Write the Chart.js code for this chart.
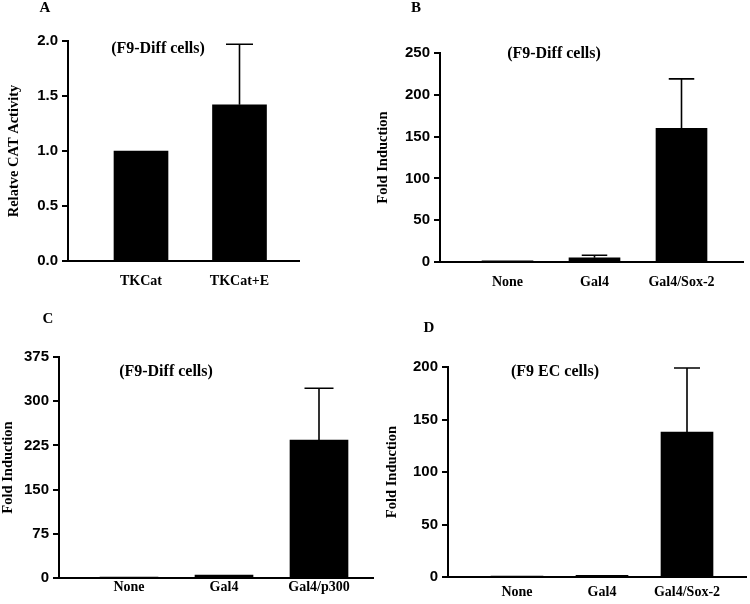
<!DOCTYPE html>
<html>
<head>
<meta charset="utf-8">
<script src="https://cdn.jsdelivr.net/npm/chart.js@4"></script>
<style>
  html, body { margin: 0; padding: 0; background: #fff; }
  #page { position: relative; width: 750px; height: 604px; }
  .panel { position: absolute; width: 375px; height: 302px; }
</style>
</head>
<body>
<div id="page">
  <div class="panel" style="left:0;top:0"><canvas id="chartA"></canvas></div>
  <div class="panel" style="left:375px;top:0"><canvas id="chartB"></canvas></div>
  <div class="panel" style="left:0;top:302px"><canvas id="chartC"></canvas></div>
  <div class="panel" style="left:375px;top:302px"><canvas id="chartD"></canvas></div>
</div>
<script>
// panel A
const labelsA = ['TKCat', 'TKCat+E'];
const valuesA = [1.0, 1.42];
const errorsA = [0, 0.55];
const ticksA = [0, 0.5, 1.0, 1.5, 2.0];

// panel B
const labelsB = ['None', 'Gal4', 'Gal4/Sox-2'];
const valuesB = [1.5, 5, 160];
const errorsB = [0, 3, 59];
const ticksB = [0, 50, 100, 150, 200, 250];

// panel C
const labelsC = ['None', 'Gal4', 'Gal4/p300'];
const valuesC = [1, 5, 234];
const errorsC = [0, 0, 88];
const ticksC = [0, 75, 150, 225, 300, 375];

// panel D
const labelsD = ['None', 'Gal4', 'Gal4/Sox-2'];
const valuesD = [0.5, 1.5, 138];
const errorsD = [0, 0, 61];
const ticksD = [0, 50, 100, 150, 200];

const serif = '"Liberation Serif", "Times New Roman", serif';
const sans = '"Liberation Sans", Arial, sans-serif';

// draws upper error bars and the panel letter / cell note
const extras = {
  id: 'extras',
  afterDatasetsDraw(chart, args, opts) {
    const ctx = chart.ctx;
    const meta = chart.getDatasetMeta(0);
    const y = chart.scales.y;
    ctx.save();
    ctx.strokeStyle = '#000';
    ctx.lineWidth = 1.6;
    meta.data.forEach((el, i) => {
      const err = opts.errors[i];
      if (!err) return;
      const top = y.getPixelForValue(opts.values[i] + err);
      const half = el.width / 4;
      ctx.beginPath();
      ctx.moveTo(el.x, el.y);
      ctx.lineTo(el.x, top);
      ctx.moveTo(el.x - half, top);
      ctx.lineTo(el.x + half, top);
      ctx.stroke();
    });
    ctx.fillStyle = '#000';
    ctx.textAlign = 'center';
    ctx.textBaseline = 'middle';
    ctx.font = 'bold 15px ' + serif;
    ctx.fillText(opts.letter, opts.letterPos[0], opts.letterPos[1]);
    ctx.font = 'bold 16px ' + serif;
    ctx.fillText(opts.note, opts.notePos[0], opts.notePos[1]);
    ctx.restore();
  }
};

function makePanel(id, cfg) {
  const xH = 24;
  const padL = cfg.titleX - 8;
  const yW = cfg.axisX - padL;
  // x positions of categories are their index 1..n on a linear scale
  const unit = cfg.spacing;
  const first = cfg.firstCenter;
  const n = cfg.labels.length;
  const xMin = 1 - (first - cfg.axisX) / unit;
  const xMax = n + (cfg.right - (first + (n - 1) * unit)) / unit;
  new Chart(document.getElementById(id), {
    type: 'bar',
    data: {
      datasets: [{
        data: cfg.values.map((v, i) => ({x: i + 1, y: v})),
        backgroundColor: '#000',
        borderWidth: 0,
        barThickness: cfg.barWidth
      }]
    },
    options: {
      responsive: true,
      maintainAspectRatio: false,
      animation: false,
      events: [],
      layout: {
        padding: {left: padL, right: 375 - cfg.right, top: cfg.top, bottom: 302 - cfg.bottom - xH}
      },
      plugins: {
        legend: {display: false},
        tooltip: {enabled: false},
        extras: {
          values: cfg.values,
          errors: cfg.errors,
          letter: cfg.letter,
          letterPos: cfg.letterPos,
          note: cfg.note,
          notePos: cfg.notePos
        }
      },
      scales: {
        x: {
          type: 'linear',
          offset: false,
          min: xMin,
          max: xMax,
          grid: {display: false, drawTicks: false},
          border: {color: '#000', width: 2},
          afterBuildTicks: s => { s.ticks = cfg.labels.map((_, i) => ({value: i + 1})); },
          afterFit: s => { s.height = xH; },
          ticks: {
            autoSkip: false,
            maxRotation: 0,
            padding: cfg.xPad,
            color: '#000',
            font: {family: serif, size: 14, weight: 'bold'},
            callback: v => cfg.labels[v - 1]
          }
        },
        y: {
          min: 0,
          max: cfg.ticks[cfg.ticks.length - 1],
          grid: {drawOnChartArea: false, drawTicks: true, tickLength: 6, color: '#000', lineWidth: 2},
          border: {color: '#000', width: 2},
          afterBuildTicks: s => { s.ticks = cfg.ticks.map(v => ({value: v})); },
          afterFit: s => { s.width = yW; },
          ticks: {
            padding: 4,
            color: '#000',
            font: {family: sans, size: 15, weight: 'bold'},
            callback: v => cfg.decimals ? v.toFixed(cfg.decimals) : v
          },
          title: {
            display: true,
            text: cfg.yTitle,
            color: '#000',
            padding: {top: 0, bottom: 0},
            font: {family: serif, size: 14.5, weight: 'bold'}
          }
        }
      }
    },
    plugins: [extras]
  });
}

makePanel('chartA', {
  labels: labelsA, values: valuesA, errors: errorsA, ticks: ticksA, decimals: 1,
  yTitle: 'Relatve CAT Activity', letter: 'A', letterPos: [45, 8],
  note: '(F9-Diff cells)', notePos: [158, 49],
  axisX: 68, titleX: 14, right: 299, top: 41, bottom: 261,
  firstCenter: 141, spacing: 98.5, barWidth: 54, xPad: 12
});
makePanel('chartB', {
  labels: labelsB, values: valuesB, errors: errorsB, ticks: ticksB, decimals: 0,
  yTitle: 'Fold Induction', letter: 'B', letterPos: [41, 8],
  note: '(F9-Diff cells)', notePos: [179, 54],
  axisX: 65, titleX: 8, right: 368, top: 53, bottom: 262,
  firstCenter: 132.5, spacing: 87, barWidth: 51, xPad: 12
});
makePanel('chartC', {
  labels: labelsC, values: valuesC, errors: errorsC, ticks: ticksC, decimals: 0,
  yTitle: 'Fold Induction', letter: 'C', letterPos: [48, 17],
  note: '(F9-Diff cells)', notePos: [166, 70],
  axisX: 59, titleX: 8, right: 373, top: 55, bottom: 276,
  firstCenter: 129, spacing: 95, barWidth: 58, xPad: 1
});
makePanel('chartD', {
  labels: labelsD, values: valuesD, errors: errorsD, ticks: ticksD, decimals: 0,
  yTitle: 'Fold Induction', letter: 'D', letterPos: [54, 26],
  note: '(F9 EC cells)', notePos: [180, 70],
  axisX: 73, titleX: 17, right: 371, top: 65, bottom: 275,
  firstCenter: 142, spacing: 85, barWidth: 52, xPad: 7
});
</script>
</body>
</html>
